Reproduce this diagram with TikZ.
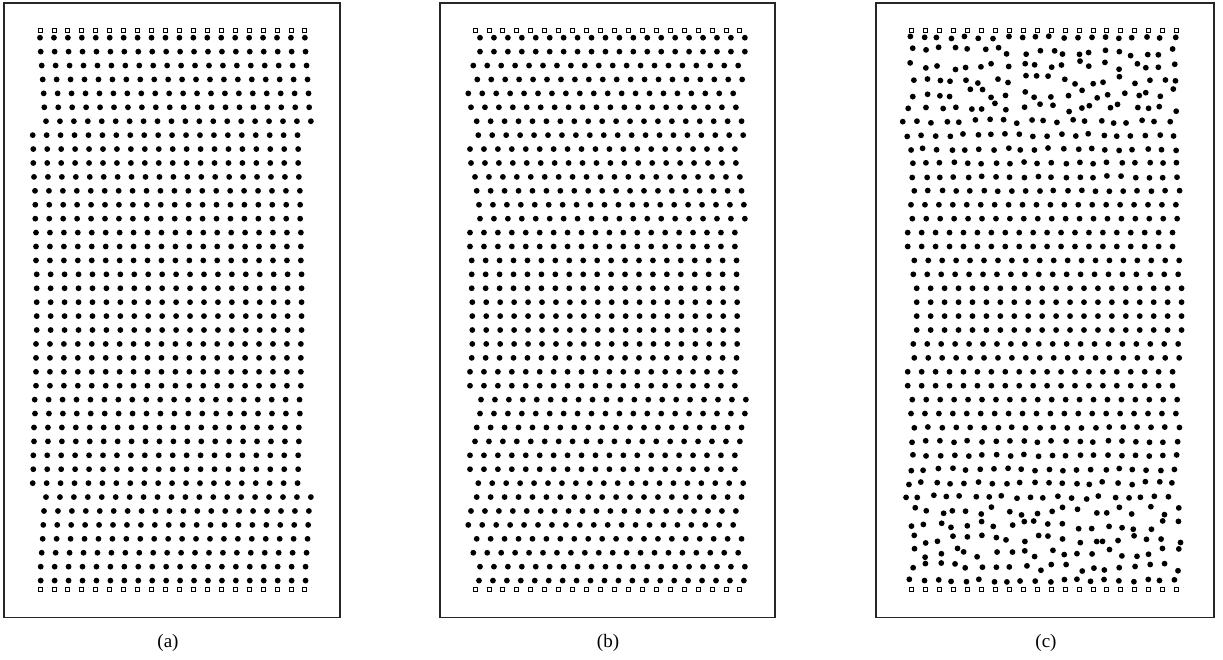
\documentclass[tikz,border=0pt]{standalone}
\usepackage{fontspec}
\setmainfont{Liberation Serif}
\usetikzlibrary{positioning}

\begin{document}
\begin{tikzpicture}[
    x=1pt, y=-1pt,
    frame/.style={
        draw=black!85,
        line width=1.2pt
    },
    particle/.style={
        fill=black
    },
    wallsite/.style={
        draw=black,
        line width=0.8pt,
        fill=white
    },
    caption/.style={
        font=\fontsize{19}{21}\selectfont,
        inner sep=0pt
    }
]
    \useasboundingbox (0,0) rectangle (1223,660);

    % -- Panel (a): ordered crystal with two slip planes --
    \draw[frame] (4,3) rectangle (340,617.5);
    \foreach \j in {0,...,19} {
        \draw[wallsite] ({40+13.94*\j-2},28) rectangle +(4,4);
        \draw[wallsite] ({40+13.94*\j-2},587.3) rectangle +(4,4);
    }
    \foreach \s [count=\i] in {0,0.7,1.7,2.7,3.7,4.3,6,
                               -7.3,-6.7,-6.7,-6,-5,-4.7,-4.7,-4,-4,-4,-3.3,-3.3,-3.3,
                               -3.3,-3.3,-4,-4,-4,-4,-5.3,-5,-6,-6,-6.7,-6.7,-7.3,
                               6,4,3.3,2.7,1.7,0.7,0.7}
        \foreach \j in {0,...,19}
            \fill[particle] ({40+\s+13.94*\j},{37.7+13.92*(\i-1)}) circle (2.9pt);
    \node[caption] (capa) at (168,643) {(a)};

    % -- Panel (b): layered crystal --
    \draw[frame] (440,3) rectangle (775,617.5);
    \foreach \j in {0,...,19} {
        \draw[wallsite] ({475+13.94*\j-2},28) rectangle +(4,4);
        \draw[wallsite] ({475+13.94*\j-2},587.3) rectangle +(4,4);
    }
    \foreach \s [count=\i] in {5,5,-1.7,2.3,-6.7,-4,1.7,3.3,-5,-4,
                               0,1.7,4,5,-5,-5,-3.3,-3.3,-3.3,-2.7,
                               -2.7,-2.7,-2.7,-3.3,-5,-5,6,5,1.7,0,
                               -5,-5,3.3,1.7,-4,-6.7,1.7,-1.7,5,4}
        \foreach \j in {0,...,19}
            \fill[particle] ({475+\s+13.94*\j},{37.7+13.92*(\i-1)}) circle (2.9pt);
    \node[caption] (capb) at (608,643) {(b)};

    % -- Panel (c): molten layers next to the walls --
    \draw[frame] (876,3) rectangle (1214,617.5);
    \foreach \j in {0,...,19} {
        \draw[wallsite] ({911.7+13.94*\j-2},28) rectangle +(4,4);
        \draw[wallsite] ({911.7+13.94*\j-2},587.3) rectangle +(4,4);
    }
    \pgfmathsetseed{4127}
    \foreach \s/\a [count=\i] in {-1.7/1.5,0/4.5,0/4.5,0/4.5,0/4.5,0/4.5,-7/2,-3.4/1.5,-1.7/1.5,0.6/1,
                                  0.6/1,2.6/0.5,-0.7/0,0.6/0,-4/0,-4/0,2.6/0,1.6/0,5/0,5/0,
                                  5/0,5/0,1.6/0,2.6/0,-4/0,-4/0,0.6/0,-0.7/0,2.6/0.5,0.6/1,
                                  1/1,-1.7/1.5,-3.4/1.5,-7/2,0/4.5,0/4.5,0/4.5,0/4.5,0/4.5,-1.7/1.5}
        \foreach \j in {0,...,19} {
            \pgfmathsetmacro\dx{\a*rand}
            \pgfmathsetmacro\dy{\a*rand}
            \fill[particle] ({911.7+\s+\dx+13.94*\j},{37.7+\dy+13.92*(\i-1)}) circle (2.9pt);
        }
    \node[caption] (capc) at (1046,643) {(c)};

\end{tikzpicture}
\end{document}
